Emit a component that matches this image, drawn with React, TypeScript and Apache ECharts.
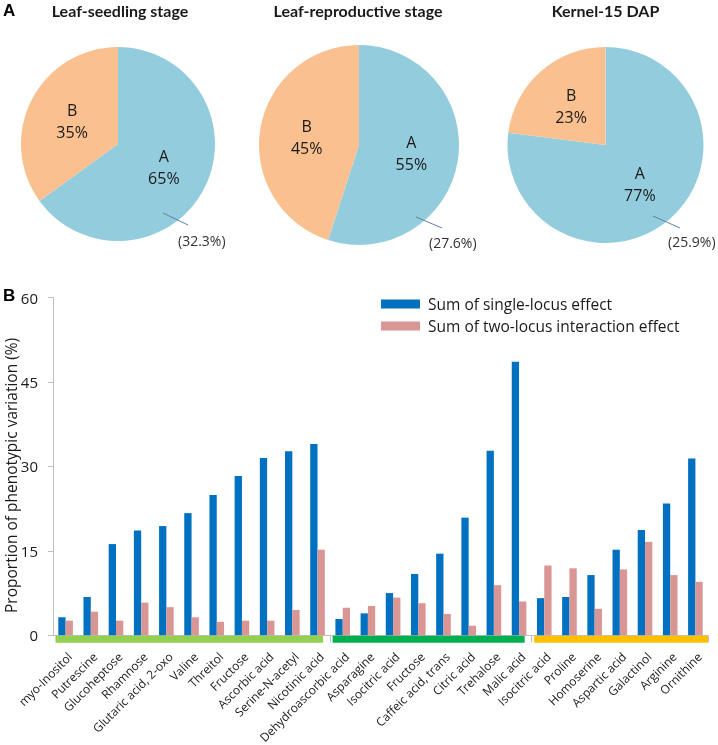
import React, { useEffect, useRef } from "react";
import * as echarts from "echarts";

// ---- data ----
const pieTitles = ["Leaf-seedling stage", "Leaf-reproductive stage", "Kernel-15 DAP"];
const pieNames = ["A", "B"];
const pieA = [65, 55, 77];
const pieB = [35, 45, 23];
const pieExplained = [32.3, 27.6, 25.9];

const categories = [
  "myo-Inositol", "Putrescine", "Glucoheptose", "Rhamnose", "Glutaric acid, 2-oxo", "Valine",
  "Threitol", "Fructose", "Ascorbic acid", "Serine-N-acetyl", "Nicotinic acid",
  "Dehydroascorbic acid", "Asparagine", "Isocitric acid", "Fructose", "Caffeic acid, trans",
  "Citric acid", "Trehalose", "Malic acid",
  "Isocitric acid", "Proline", "Homoserine", "Aspartic acid", "Galactinol", "Arginine", "Ornithine",
];
const singleLocus = [
  3.2, 6.8, 16.2, 18.6, 19.4, 21.7, 24.9, 28.3, 31.5, 32.7, 34.0,
  2.9, 3.9, 7.5, 10.9, 14.5, 20.9, 32.8, 48.6,
  6.6, 6.8, 10.7, 15.2, 18.7, 23.4, 31.4,
];
const twoLocus = [
  2.6, 4.2, 2.6, 5.8, 5.0, 3.2, 2.4, 2.6, 2.6, 4.5, 15.2,
  4.9, 5.2, 6.7, 5.7, 3.8, 1.7, 8.9, 6.0,
  12.4, 11.9, 4.7, 11.7, 16.6, 10.7, 9.5,
];
const groupSizes = [11, 8, 7];
const seriesNames = ["Sum of single-locus effect", "Sum of two-locus interaction effect"];
const yMin = 0;
const yMax = 60;
const yStep = 15;

// ---- styles / layout ----
const FONT = "Open Sans";
const TITLE_FONT = "Lato";
const groupColors = ["#92D050", "#00B050", "#FFC000"];
const pieColors = ["#93CDDD", "#FAC090"];
const barColors = ["#0070C0", "#D99694"];
const pieLayout = [
  { cx: 118, cy: 144, r: 97, titleX: 120, l1: [45, 69], l2: [70, 81], t: [60, 96] },
  { cx: 359, cy: 145, r: 100, titleX: 358, l1: [57, 72], l2: [83, 83], t: [70, 97] },
  { cx: 605.5, cy: 145, r: 98, titleX: 605.5, l1: [47.5, 71], l2: [74.5, 83], t: [62.5, 96] },
];

export default function App() {
  const ref = useRef<HTMLDivElement>(null);

  useEffect(() => {
    if (!ref.current) return;
    const chart = echarts.init(ref.current, null, { renderer: "svg" });

    const pieSeries = pieLayout.map((pl, i) => ({
      type: "pie",
      center: [pl.cx, pl.cy],
      radius: pl.r,
      startAngle: 90,
      clockwise: true,
      silent: true,
      emphasis: { disabled: true },
      data: [
        { name: pieNames[0], value: pieA[i], itemStyle: { color: pieColors[0] } },
        { name: pieNames[1], value: pieB[i], itemStyle: { color: pieColors[1] } },
      ],
      label: {
        show: true,
        position: "inside",
        formatter: (p: any) => `${p.name}\n${p.value}%`,
        fontFamily: FONT,
        fontSize: 16,
        lineHeight: 22,
        color: "#1a1a1a",
      },
      labelLine: { show: false },
    }));

    chart.setOption({
      animation: false,
      textStyle: { fontFamily: FONT },
      legend: {
        orient: "vertical",
        left: 376,
        top: 291,
        itemWidth: 39,
        itemHeight: 9,
        itemGap: 6,
        icon: "rect",
        selectedMode: false,
        data: seriesNames,
        textStyle: { fontFamily: FONT, fontSize: 15.5, color: "#1a1a1a", padding: [0, 0, 0, 3] },
      },
      grid: { left: 53, right: 10, top: 297.5, bottom: 109.7, containLabel: false, outerBoundsMode: "none" },
      xAxis: {
        type: "category",
        data: categories,
        boundaryGap: true,
        axisLine: { show: true, lineStyle: { color: "#bfbfbf", width: 1 } },
        axisTick: {
          show: true,
          length: 7,
          interval: (i: number) => i === 11 || i === 19,
          lineStyle: { color: "#bfbfbf" },
        },
        axisLabel: {
          interval: 0,
          rotate: 45,
          margin: 15,
          align: "right",
          verticalAlign: "top",
          fontFamily: FONT,
          fontSize: 12,
          color: "#1a1a1a",
        },
      },
      yAxis: {
        type: "value",
        min: yMin,
        max: yMax,
        interval: yStep,
        name: "Proportion of phenotypic variation (%)",
        nameLocation: "middle",
        nameGap: 34,
        nameMoveOverlap: false,
        nameTextStyle: { fontFamily: FONT, fontSize: 15.5, color: "#1a1a1a", padding: [0, 18, 0, 0] },
        axisLine: { show: true, lineStyle: { color: "#bfbfbf" } },
        axisTick: { show: true, length: 5, lineStyle: { color: "#bfbfbf" } },
        splitLine: { show: false },
        axisLabel: { fontFamily: FONT, fontSize: 15, color: "#1a1a1a", margin: 15 },
      },
      series: [
        ...pieSeries,
        {
          type: "bar",
          name: seriesNames[0],
          data: singleLocus,
          barWidth: "29%",
          barGap: "0%",
          itemStyle: { color: barColors[0] },
          silent: true,
        },
        {
          type: "bar",
          name: seriesNames[1],
          data: twoLocus,
          barWidth: "29%",
          barGap: "0%",
          itemStyle: { color: barColors[1] },
          silent: true,
        },
      ],
    });

    // graphics computed from the axes
    const c0 = chart.convertToPixel({ xAxisIndex: 0 }, 0) as number;
    const c1 = chart.convertToPixel({ xAxisIndex: 0 }, 1) as number;
    const band = c1 - c0;
    const left0 = c0 - band / 2;
    const y0 = chart.convertToPixel({ yAxisIndex: 0 }, 0) as number;
    const graphics: any[] = [];
    let start = 0;
    groupSizes.forEach((n, gi) => {
      const x1 = left0 + start * band + 2.5;
      const x2 = left0 + (start + n) * band - (gi === groupSizes.length - 1 ? 0 : 7);
      graphics.push({
        type: "rect",
        shape: { x: x1, y: y0 + 0.5, width: x2 - x1, height: 7 },
        style: { fill: groupColors[gi] },
        z: 10,
        silent: true,
      });
      start += n;
    });

    pieLayout.forEach((pl, i) => {
      graphics.push({
        type: "text",
        x: pl.titleX,
        y: 10,
        style: {
          text: pieTitles[i],
          fontFamily: TITLE_FONT,
          fontWeight: "bold",
          fontSize: 16,
          fill: "#1a1a1a",
          textAlign: "center",
          textVerticalAlign: "middle",
        },
      });
      graphics.push({
        type: "line",
        shape: { x1: pl.cx + pl.l1[0], y1: pl.cy + pl.l1[1], x2: pl.cx + pl.l2[0], y2: pl.cy + pl.l2[1] },
        style: { stroke: "#5f7fa6", lineWidth: 1 },
        z: 10,
      });
      graphics.push({
        type: "text",
        x: pl.cx + pl.t[0],
        y: pl.cy + pl.t[1],
        style: {
          text: `(${pieExplained[i].toFixed(1)}%)`,
          fontFamily: FONT,
          fontSize: 14,
          fill: "#333",
          textAlign: "left",
          textVerticalAlign: "middle",
        },
      });
    });

    graphics.push({
      type: "text",
      x: 3,
      y: 10,
      style: { text: "A", fontFamily: "Liberation Sans", fontWeight: "bold", fontSize: 17, fill: "#000", textVerticalAlign: "middle" },
    });
    graphics.push({
      type: "text",
      x: 3,
      y: 295,
      style: { text: "B", fontFamily: "Liberation Sans", fontWeight: "bold", fontSize: 17, fill: "#000", textVerticalAlign: "middle" },
    });

    chart.setOption({ graphic: graphics });

    return () => chart.dispose();
  }, []);

  return <div ref={ref} style={{ position: "fixed", left: 0, top: 0, width: 718, height: 745 }} />;
}
